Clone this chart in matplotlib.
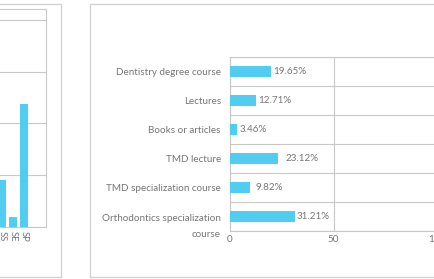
import matplotlib
matplotlib.use("Agg")
import matplotlib.pyplot as plt
from matplotlib.patches import Rectangle
import numpy as np

plt.rcParams.update({
    "font.family": ["Lato", "DejaVu Sans"],
    "font.size": 7.1,
    "text.color": "#767676",
    "xtick.color": "#767676",
    "ytick.color": "#767676",
})

# left panel (only partly visible)
left_cats = ["SS", "SE", "SP"]
left_vals = [9.1, 1.9, 23.8]

# right panel
sources = ["Dentistry degree course", "Lectures", "Books or articles",
           "TMD lecture", "TMD specialization course",
           "Orthodontics specialization\ncourse"]
percents = [19.65, 12.71, 3.46, 23.12, 9.82, 31.21]
label_pad = [3, 1.5, 2.5, 8, 5, 2.5]  # px gap between bar end and value text

bar_color = "#52cdf2"
grid_color = "#c8c8c8"

W, H = 435, 279
fig = plt.figure(figsize=(W / 100, H / 100), dpi=100)

# panel frames
for x0, x1 in [(-5, 61), (90, 445)]:
    fig.patches.append(Rectangle((x0 / W, 1 - 277 / H), (x1 - x0) / W, 273 / H,
                                 transform=fig.transFigure, fill=False,
                                 edgecolor="#d2d2d2", linewidth=1.0))

# ---- left bar chart ----
axl = fig.add_axes([0, 1 - 227 / H, 46 / W, 218 / H])
xl = np.arange(len(left_cats))
axl.bar(xl, left_vals, width=0.72, color=bar_color, zorder=3)
axl.set_xlim(-0.18, 4)
axl.set_ylim(0, 42.1)
axl.set_yticks([0, 10, 20, 30, 40])
axl.yaxis.grid(True, color=grid_color, linewidth=0.8)
axl.tick_params(axis="y", left=False, labelleft=False)
axl.set_xticks(xl)
axl.set_xticklabels(left_cats, rotation=270, fontsize=6.8)
axl.tick_params(axis="x", length=0, pad=3)
axl.spines["left"].set_visible(False)
for s in ["top", "right", "bottom"]:
    axl.spines[s].set_color(grid_color)
    axl.spines[s].set_linewidth(0.8)

# ---- right horizontal bar chart ----
axr = fig.add_axes([230 / W, 1 - 231 / H, 207 / W, 174 / H])
y = np.arange(len(sources))
axr.barh(y, percents, height=0.39, color=bar_color, zorder=3)
axr.set_xlim(0, 100)
axr.set_ylim(len(sources) - 0.5, -0.5)
axr.set_xticks([0, 50, 100])
axr.set_yticks(y)
axr.set_yticklabels(sources[:-1] + [""])
axr.set_yticks(np.arange(-0.5, len(sources), 1), minor=True)
axr.tick_params(axis="y", which="both", length=0, pad=6.5)
axr.tick_params(axis="x", length=0, pad=3)
axr.xaxis.grid(True, color=grid_color, linewidth=0.8)
axr.yaxis.grid(True, which="minor", color=grid_color, linewidth=0.8)
for s in axr.spines.values():
    s.set_color(grid_color)
    s.set_linewidth(0.8)
axr.spines["right"].set_visible(False)

# wrapped last label, first line near the row centre
axr.text(-9 / 207, y[-1] + 0.36, sources[-1], transform=axr.get_yaxis_transform(),
         ha="right", va="center", linespacing=2.0)

for yi, v, p in zip(y, percents, label_pad):
    axr.annotate(f"{v:.2f}%", (v, yi), xytext=(p * 0.72, 0),
                 textcoords="offset points", va="center", ha="left")

fig.savefig("out.png", dpi=100)
